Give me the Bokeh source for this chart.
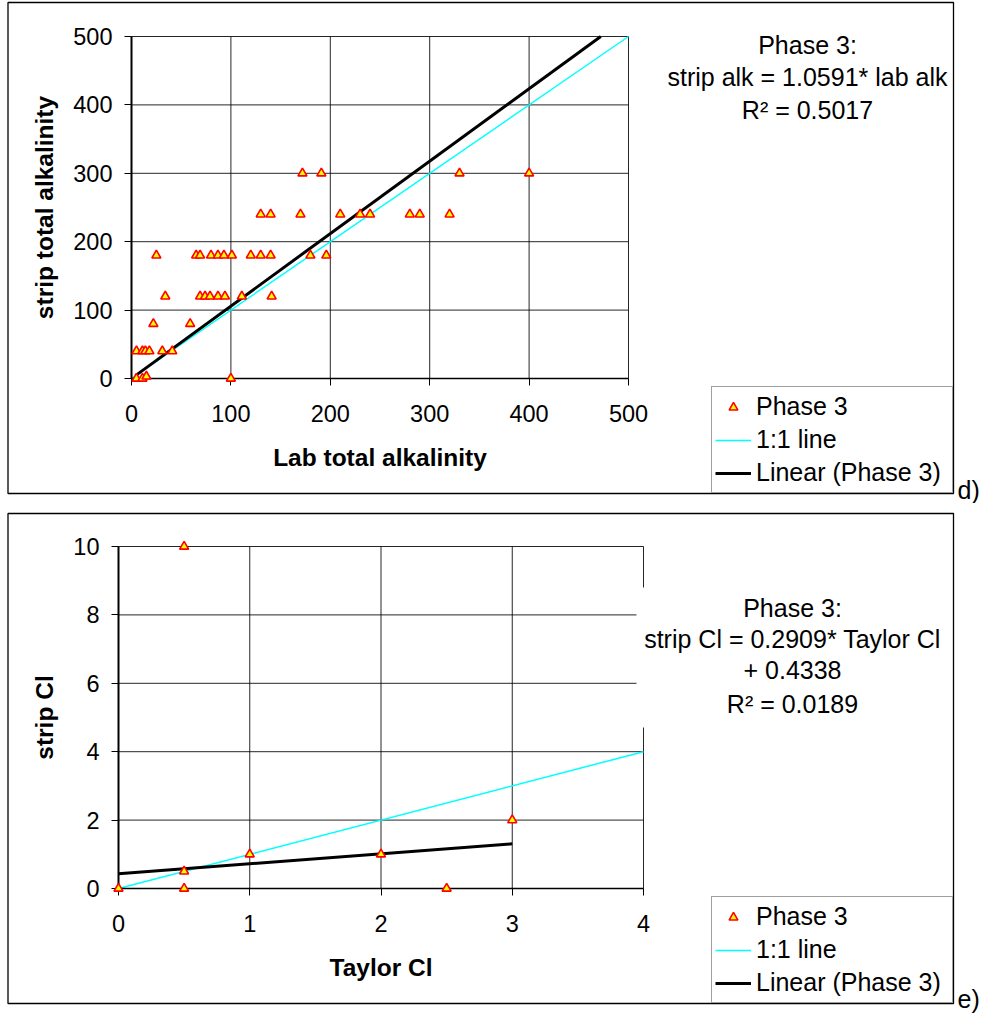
from bokeh.plotting import figure
from bokeh.layouts import column
from bokeh.models import Range1d, FixedTicker, Legend, LegendItem, Label, BoxAnnotation
from bokeh.embed import file_html
from bokeh.resources import INLINE

FONT = "Liberation Sans"

# ---------------- chart d) : total alkalinity ----------------
alk_lab = [172, 191, 330, 400,
           130, 140, 170, 210, 230, 240, 280, 290, 320,
           25, 65, 69, 80, 87, 93, 101, 120, 130, 140, 180, 196,
           34, 69, 74, 79, 87, 94, 111, 141,
           22, 59,
           5, 11, 14, 18, 31, 41,
           5, 11, 15, 100]
alk_strip = [300, 300, 300, 300,
             240, 240, 240, 240, 240, 240, 240, 240, 240,
             180, 180, 180, 180, 180, 180, 180, 180, 180, 180, 180, 180,
             120, 120, 120, 120, 120, 120, 120, 120,
             80, 80,
             40, 40, 40, 40, 40, 40,
             0, 0, 3, 0]
alk_one_x = [0, 500]
alk_one_y = [0, 500]
alk_fit_x = [4, 472.1]
alk_fit_y = [4.2, 500]
alk_ticks = [0, 100, 200, 300, 400, 500]
alk_text = ["Phase 3:", "strip alk = 1.0591* lab alk", "R\u00b2 = 0.5017"]

# ---------------- chart e) : chloride ----------------
cl_taylor = [0, 0.5, 0.5, 0.5, 1, 2, 2.5, 3]
cl_strip = [0, 10, 0.5, 0, 1, 1, 0, 2]
cl_one_x = [0, 4]
cl_one_y = [0, 4]
cl_fit_x = [0, 3]
cl_fit_y = [0.4338, 1.3065]
cl_xticks = [0, 1, 2, 3, 4]
cl_yticks = [0, 2, 4, 6, 8, 10]
cl_text = ["Phase 3:", "strip Cl = 0.2909* Taylor Cl", "+ 0.4338", "R\u00b2 = 0.0189"]

W = 981


def make(xs, ys, ox, oy, fx, fy, xr, yr, xt, yt, xlabel, ylabel,
         top_page, height, fl, fr, ft, fb, frame_box, ann, ann_x, ann_ys,
         tag, tag_pos, white_box=None):
    # page pixel -> data coordinates
    def cx(px):
        return xr[0] + (px - fl) / (fr - fl) * (xr[1] - xr[0])

    def cy(py):
        return yr[0] + (fb - py) / (fb - ft) * (yr[1] - yr[0])

    p = figure(width=W, height=height, output_backend="svg", toolbar_location=None,
               x_range=Range1d(cx(0), cx(W)),
               y_range=Range1d(cy(top_page + height), cy(top_page)),
               min_border_left=0, min_border_right=0,
               min_border_top=0, min_border_bottom=0)
    p.background_fill_color = "white"
    p.border_fill_color = "white"
    p.outline_line_color = None
    p.xgrid.visible = False
    p.ygrid.visible = False

    # plot-area grid drawn from tick lists
    p.segment(x0=xt, x1=xt, y0=[yr[0]] * len(xt), y1=[yr[1]] * len(xt),
              line_color="black", line_alpha=0.85, line_width=1)
    p.segment(x0=[xr[0]] * len(yt), x1=[xr[1]] * len(yt), y0=yt, y1=yt,
              line_color="black", line_alpha=0.85, line_width=1)

    p.xaxis.ticker = FixedTicker(ticks=xt)
    p.yaxis.ticker = FixedTicker(ticks=yt)
    p.xaxis.fixed_location = yr[0]
    p.yaxis.fixed_location = xr[0]
    p.xaxis.bounds = xr
    p.yaxis.bounds = yr
    for ax in (p.xaxis[0], p.yaxis[0]):
        ax.major_tick_out = 7
        ax.major_tick_in = 0
        ax.minor_tick_out = 0
        ax.minor_tick_in = 0
        ax.major_tick_line_color = "black"
        ax.axis_line_color = "black"
        ax.major_label_text_font = FONT
        ax.major_label_text_font_size = "23.5px"
        ax.major_label_text_color = "black"
        ax.axis_label_text_font = FONT
        ax.axis_label_text_font_size = "24.5px"
        ax.axis_label_text_font_style = "bold"
        ax.axis_label_text_color = "black"
    p.xaxis.axis_line_width = 1.5
    p.yaxis.axis_line_width = 2
    p.xaxis.major_label_standoff = 19
    p.yaxis.major_label_standoff = 12
    p.xaxis.axis_label_standoff = 19
    p.yaxis.axis_label_standoff = 12
    p.xaxis.axis_label = xlabel
    p.yaxis.axis_label = ylabel

    r_one = p.line(ox, oy, line_color="#00FFFF", line_width=1.5)
    r_fit = p.line(fx, fy, line_color="black", line_width=3)
    r_pts = p.scatter(xs, ys, marker="triangle", size=9, fill_color="#FFFF00",
                      line_color="#FF0000", line_width=1.6, level="overlay")

    # outer chart frame
    p.add_layout(BoxAnnotation(left=cx(frame_box[0]), right=cx(frame_box[2]),
                               top=cy(frame_box[1]), bottom=cy(frame_box[3]),
                               fill_alpha=0, line_color="black", line_width=1.3,
                               line_alpha=1))
    if white_box is not None:
        p.add_layout(BoxAnnotation(left=cx(white_box[0]), right=cx(white_box[2]),
                                   top=cy(white_box[1]), bottom=cy(white_box[3]),
                                   fill_color="white", fill_alpha=1, line_alpha=0))
    for t, py in zip(ann, ann_ys):
        p.add_layout(Label(x=cx(ann_x), y=cy(py), text=t, text_align="center",
                           text_baseline="middle", text_font=FONT,
                           text_font_size="25px", text_color="black"))
    p.add_layout(Label(x=cx(tag_pos[0]), y=cy(tag_pos[1]), text=tag, text_align="left",
                       text_baseline="middle", text_font=FONT, text_font_size="25px",
                       text_color="black"))

    legend = Legend(items=[LegendItem(label="Phase 3", renderers=[r_pts]),
                           LegendItem(label="1:1 line", renderers=[r_one]),
                           LegendItem(label="Linear (Phase 3)", renderers=[r_fit])],
                    location=(711, top_page + height - frame_box[3]),
                    glyph_width=36, glyph_height=22,
                    label_height=33, label_width=193, label_standoff=5, padding=3,
                    spacing=0, margin=0, border_line_color="#404040", border_line_width=1,
                    background_fill_color="white", background_fill_alpha=1,
                    label_text_font=FONT, label_text_font_size="25px",
                    label_text_color="black")
    p.add_layout(legend, "center")
    return p


p1 = make(alk_lab, alk_strip, alk_one_x, alk_one_y, alk_fit_x, alk_fit_y,
          (0, 500), (0, 500), alk_ticks, alk_ticks,
          "Lab total alkalinity", "strip total alkalinity",
          0, 503, 131, 628, 36, 378, (7.5, 2, 953, 493),
          alk_text, 807, [44, 76, 109], "d)", (957, 489))

p2 = make(cl_taylor, cl_strip, cl_one_x, cl_one_y, cl_fit_x, cl_fit_y,
          (0, 4), (0, 10), cl_xticks, cl_yticks,
          "Taylor Cl", "strip Cl",
          503, 511, 118, 643, 546, 888, (7.5, 513, 953, 1003),
          cl_text, 792, [607, 638, 669, 703], "e)", (957, 998),
          white_box=(636, 587, 950, 727))

layout = column(p1, p2, spacing=0)
open("out.html", "w").write(file_html(layout, INLINE))
